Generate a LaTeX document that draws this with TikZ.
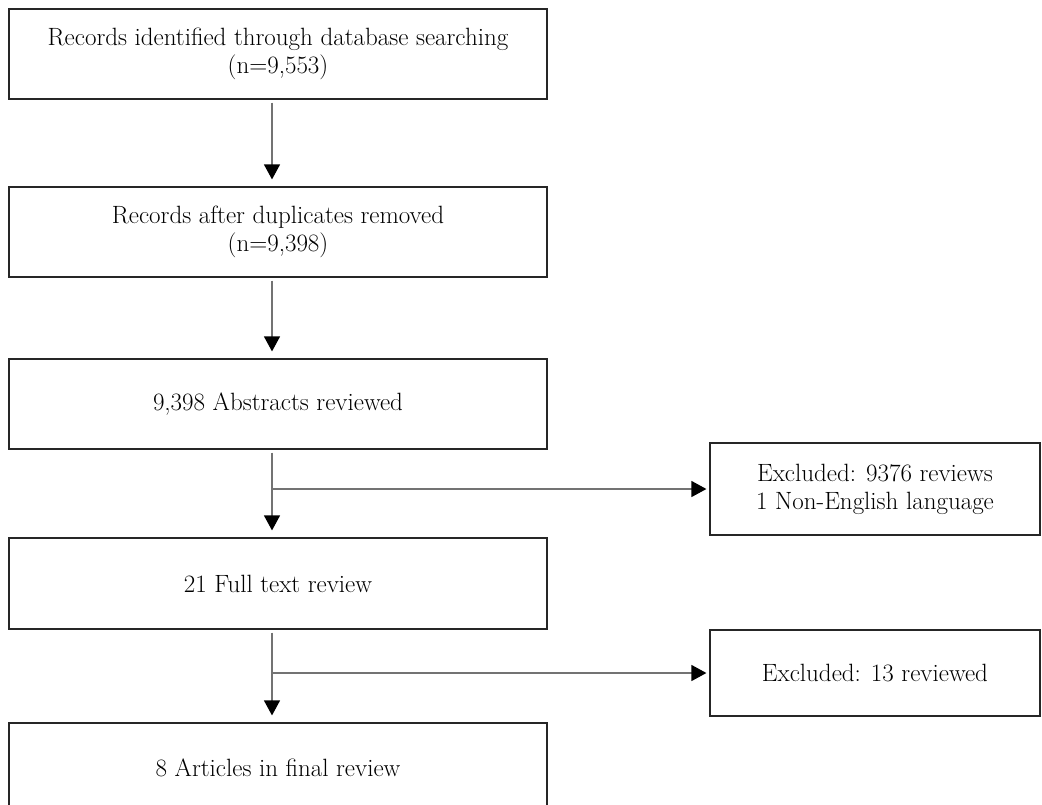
\documentclass[tikz,border=0pt]{standalone}
\usetikzlibrary{arrows.meta}
\begin{document}
\begin{tikzpicture}[x=1pt,y=-1pt,
  box/.style={draw=black!85, line width=1.2pt, minimum width=538pt, minimum height=90pt, inner sep=0pt, align=center, font=\fontsize{25}{28}\selectfont},
  rbox/.style={box, minimum width=330pt},
  flow/.style={draw=black!55, line width=1.2pt, -{Triangle[width=16pt,length=15pt,color=black]}}]
\clip (0,0) rectangle (1042,804);
\node[box] (b1) at (278,54) {Records identified through database searching\\(n=9,553)};
\node[box] (b2) at (278,232) {Records after duplicates removed\\(n=9,398)};
\node[box] (b3) at (278,404) {9,398 Abstracts reviewed};
\node[box, minimum height=91pt] (b4) at (278,583.5) {21 Full text review};
\node[box] (b5) at (278,768) {8 Articles in final review};
\node[rbox, minimum height=92pt] (r1) at (875,489) {Excluded: 9376 reviews\\1 Non-English language};
\node[rbox, minimum height=86pt] (r2) at (875,673) {Excluded: 13 reviewed};
\coordinate (a1) at ([xshift=-6pt]b1.south);
\coordinate (a2) at ([xshift=-6pt]b2.south);
\coordinate (a3) at ([xshift=-6pt]b3.south);
\coordinate (a4) at ([xshift=-6pt]b4.south);
\draw[flow, shorten <=3pt, shorten >=7pt] (a1) -- (a1 |- b2.north);
\draw[flow, shorten <=3pt, shorten >=7pt] (a2) -- (a2 |- b3.north);
\draw[flow, shorten <=3pt, shorten >=7pt] (a3) -- (a3 |- b4.north);
\draw[flow, shorten <=3pt, shorten >=7pt] (a4) -- (a4 |- b5.north);
\draw[flow, shorten >=3pt] (a3 |- r1.west) -- (r1.west);
\draw[flow, shorten >=3pt] (a4 |- r2.west) -- (r2.west);
\end{tikzpicture}
\end{document}
